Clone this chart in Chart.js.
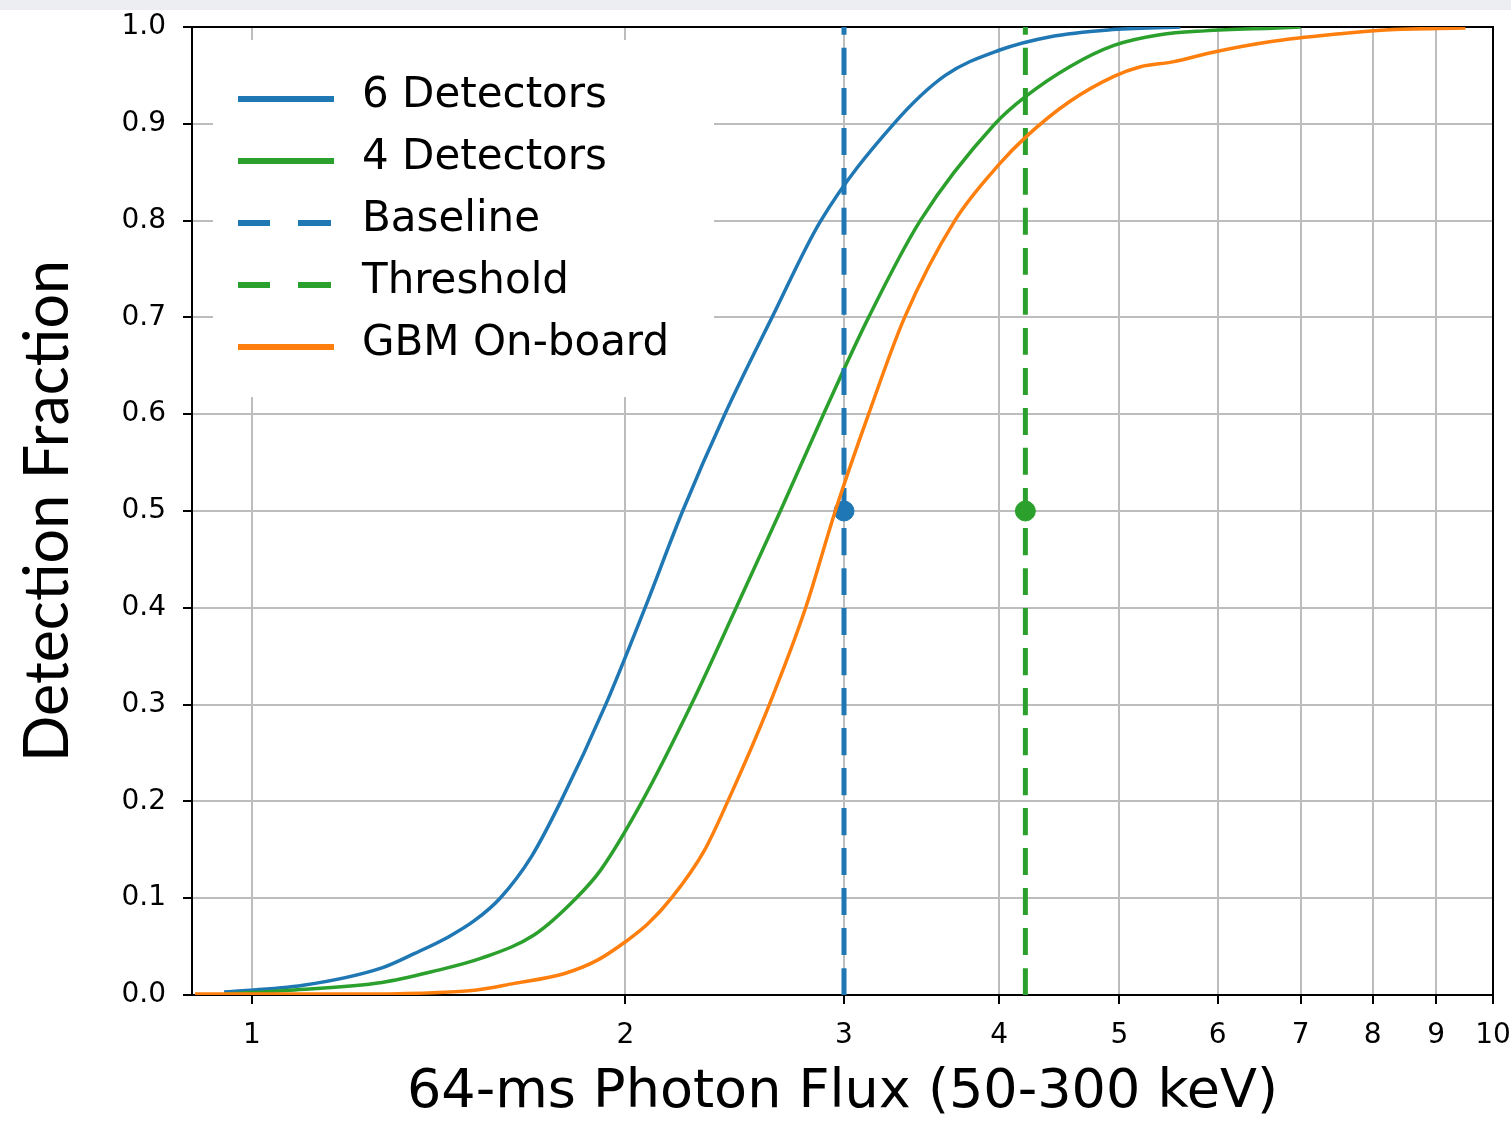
<!DOCTYPE html>
<html>
<head>
<meta charset="utf-8">
<script src="https://cdn.jsdelivr.net/npm/chart.js@4.4.1/dist/chart.umd.min.js"></script>
<style>
  html, body { margin: 0; padding: 0; background: #fff; }
  #franja { position: absolute; left: 0; top: 0; width: 1511px; height: 10px; background: #eceef2; }
</style>
</head>
<body>
<canvas id="graficoDeteccion" width="1511" height="1130"></canvas>
<div id="franja"></div>
<script>
// curvas (flujo, fraccion detectada)
var flux6 = [0.95, 1.1, 1.273, 1.353, 1.44, 1.512, 1.585, 1.68, 1.774, 1.928, 2.074, 2.224, 2.405, 2.625, 2.874, 3.29, 3.62, 4.0, 4.4, 4.9, 5.6];
var frac6 = [0.003, 0.01, 0.028, 0.043, 0.06, 0.077, 0.1, 0.143, 0.2, 0.3, 0.4, 0.5, 0.6, 0.7, 0.8, 0.9, 0.95, 0.976, 0.99, 0.997, 1.0];

var flux4 = [0.95, 1.073, 1.273, 1.396, 1.531, 1.688, 1.825, 1.91, 2.063, 2.26, 2.456, 2.666, 2.888, 3.14, 3.456, 3.97, 4.2, 4.56, 4.95, 5.39, 5.86, 6.7, 7.0];
var frac4 = [0.001, 0.005, 0.013, 0.024, 0.038, 0.062, 0.1, 0.129, 0.2, 0.3, 0.4, 0.5, 0.6, 0.7, 0.8, 0.9, 0.928, 0.959, 0.981, 0.992, 0.996, 0.999, 1.0];

var fluxGbm = [0.9, 1.2, 1.512, 1.627, 1.784, 1.899, 2.0, 2.083, 2.178, 2.317, 2.418, 2.612, 2.794, 2.952, 3.14, 3.357, 3.685, 4.0, 4.2, 4.56, 4.95, 5.2, 5.52, 5.95, 6.63, 7.53, 8.19, 9.5];
var fracGbm = [0.001, 0.001, 0.005, 0.012, 0.022, 0.036, 0.055, 0.073, 0.1, 0.15, 0.2, 0.3, 0.4, 0.5, 0.6, 0.7, 0.8, 0.858, 0.886, 0.923, 0.949, 0.959, 0.964, 0.974, 0.985, 0.993, 0.997, 0.999];

var baselineFlux = 3.0;
var thresholdFlux = 4.2;
var marcadorFrac = 0.5;

var xTicks = [1, 2, 3, 4, 5, 6, 7, 8, 9, 10];
var yTicks = [0, 0.1, 0.2, 0.3, 0.4, 0.5, 0.6, 0.7, 0.8, 0.9, 1.0];

var azul = '#1f77b4';
var verde = '#2ca02c';
var naranja = '#ff7f0e';

function puntos(xs, ys) {
  return xs.map(function (x, i) {
    return { x: x, y: ys[i] };
  });
}

function vertical(x) {
  return [{ x: x, y: yTicks[0] }, { x: x, y: yTicks[yTicks.length - 1] }];
}

var datasets = [
  { label: '6 Detectors', data: puntos(flux6, frac6), borderColor: azul, borderWidth: 3.5, order: 7, leyenda: true },
  { label: '4 Detectors', data: puntos(flux4, frac4), borderColor: verde, borderWidth: 3.5, order: 6, leyenda: true },
  { label: 'Baseline', data: vertical(baselineFlux), borderColor: azul, borderWidth: 5, borderDash: [27, 13], order: 5, leyenda: true },
  { label: 'Threshold', data: vertical(thresholdFlux), borderColor: verde, borderWidth: 5, borderDash: [27, 13], order: 4, leyenda: true },
  { label: 'GBM On-board', data: puntos(fluxGbm, fracGbm), borderColor: naranja, borderWidth: 3.5, order: 1, leyenda: true },
  { label: 'baseline 50%', data: [{ x: baselineFlux, y: marcadorFrac }], showLine: false, pointRadius: 10, backgroundColor: azul, borderColor: azul, order: 5 },
  { label: 'threshold 50%', data: [{ x: thresholdFlux, y: marcadorFrac }], showLine: false, pointRadius: 10, backgroundColor: verde, borderColor: verde, order: 4 }
];

datasets.forEach(function (d) {
  d.fill = false;
  d.cubicInterpolationMode = 'monotone';
  if (d.pointRadius === undefined) d.pointRadius = 0;
  d.pointHoverRadius = 0;
  d.borderJoinStyle = 'round';
});

var marco = {
  id: 'marco',
  beforeDatasetsDraw: function (chart) {
    var a = chart.chartArea;
    var ctx = chart.ctx;
    ctx.save();
    ctx.strokeStyle = '#000';
    ctx.lineWidth = 2;
    ctx.beginPath();
    ctx.moveTo(a.left, a.top);
    ctx.lineTo(a.right, a.top);
    ctx.lineTo(a.right, a.bottom);
    ctx.stroke();
    ctx.restore();
  }
};

var leyendaDentro = {
  id: 'leyendaDentro',
  afterDatasetsDraw: function (chart) {
    var a = chart.chartArea;
    var ctx = chart.ctx;
    var x0 = a.left + 21;
    var y0 = a.top + 13;
    ctx.save();
    ctx.fillStyle = '#fff';
    ctx.fillRect(x0, y0, 501, 357);
    ctx.font = '42px "DejaVu Sans"';
    ctx.textBaseline = 'middle';
    ctx.textAlign = 'left';
    var fila = 0;
    chart.data.datasets.forEach(function (d) {
      if (!d.leyenda) return;
      var y = a.top + 72 + fila * 62;
      ctx.strokeStyle = d.borderColor;
      ctx.lineWidth = 6;
      ctx.beginPath();
      if (d.borderDash) {
        ctx.moveTo(x0 + 25, y);
        ctx.lineTo(x0 + 57, y);
        ctx.moveTo(x0 + 85, y);
        ctx.lineTo(x0 + 118, y);
      } else {
        ctx.moveTo(x0 + 25, y);
        ctx.lineTo(x0 + 121, y);
      }
      ctx.stroke();
      ctx.fillStyle = '#000';
      ctx.fillText(d.label, x0 + 149, y - 3);
      fila++;
    });
    ctx.restore();
  }
};

new Chart(document.getElementById('graficoDeteccion'), {
  type: 'line',
  data: { datasets: datasets },
  plugins: [marco, leyendaDentro],
  options: {
    responsive: false,
    animation: false,
    layout: { padding: { top: 27, right: 18, left: 0, bottom: 0 } },
    plugins: {
      legend: { display: false },
      tooltip: { enabled: false }
    },
    scales: {
      x: {
        type: 'logarithmic',
        min: 0.895,
        max: 10,
        afterBuildTicks: function (scale) {
          scale.ticks = xTicks.map(function (v) { return { value: v }; });
        },
        afterFit: function (scale) {
          scale.height = 135;
          scale.paddingLeft = 0;
          scale.paddingRight = 0;
        },
        ticks: {
          autoSkip: false,
          maxRotation: 0,
          padding: 15,
          color: '#000',
          font: { family: 'DejaVu Sans', size: 28 },
          callback: function (v) { return String(v); }
        },
        grid: { color: '#bdbdbd', lineWidth: 2, tickColor: '#000', tickLength: 9, tickWidth: 2 },
        border: { color: '#000', width: 2 },
        title: {
          display: true,
          text: '64-ms Photon Flux (50-300 keV)',
          color: '#000',
          font: { family: 'DejaVu Sans', size: 54 },
          padding: { top: 0, bottom: 5 }
        }
      },
      y: {
        type: 'linear',
        min: 0,
        max: 1,
        afterBuildTicks: function (scale) {
          scale.ticks = yTicks.map(function (v) { return { value: v }; });
        },
        afterFit: function (scale) {
          scale.width = 192;
          scale.paddingTop = 0;
          scale.paddingBottom = 0;
        },
        ticks: {
          padding: 17,
          color: '#000',
          font: { family: 'DejaVu Sans', size: 28 },
          callback: function (v) { return v.toFixed(1); }
        },
        grid: { color: '#bdbdbd', lineWidth: 2, tickColor: '#000', tickLength: 9, tickWidth: 2 },
        border: { color: '#000', width: 2 },
        title: {
          display: true,
          text: 'Detection Fraction',
          color: '#000',
          font: { family: 'Lato', size: 61 },
          padding: { top: 12, bottom: 0 }
        }
      }
    }
  }
});
</script>
</body>
</html>
